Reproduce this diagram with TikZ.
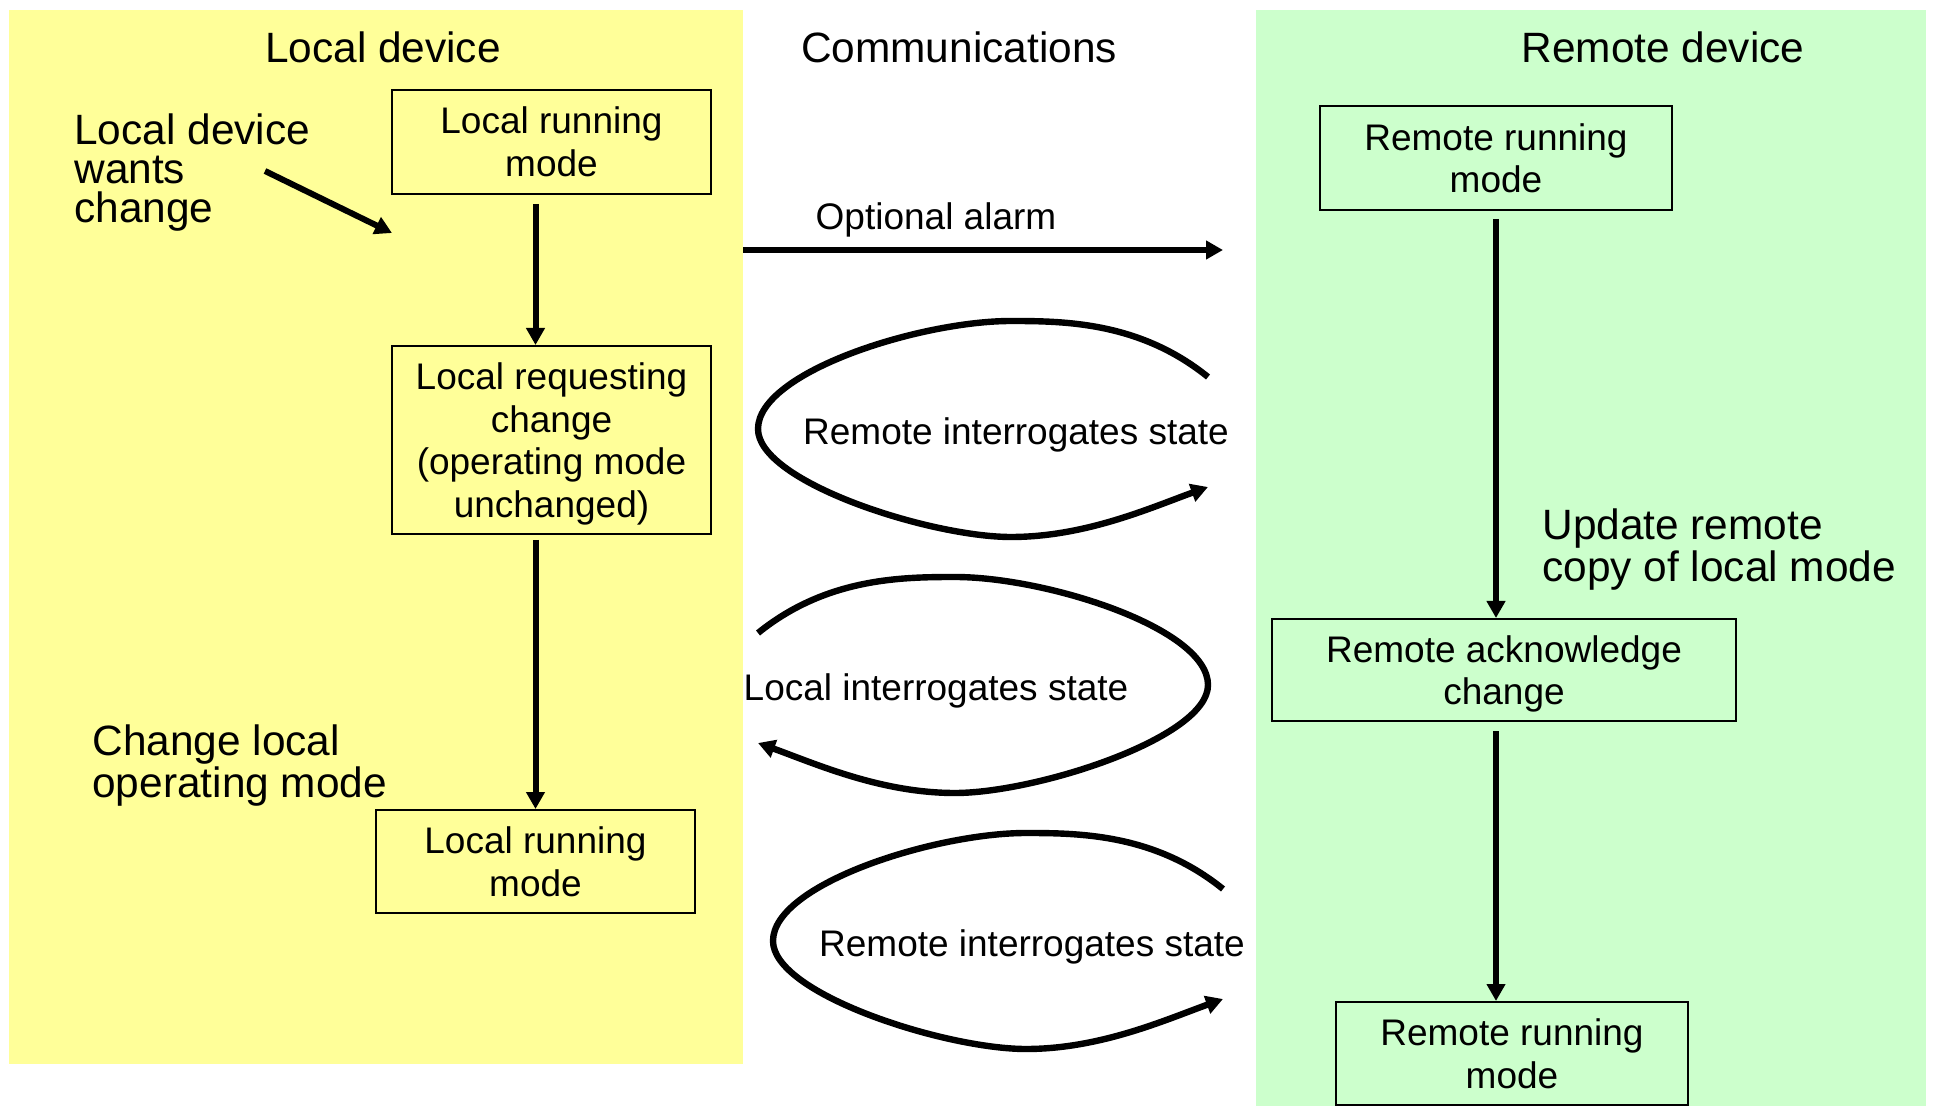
\documentclass[tikz,border=0pt]{standalone}
\usepackage{fontspec}
\setmainfont{Liberation Sans}
\usetikzlibrary{arrows.meta,calc}
\definecolor{localbg}{RGB}{255,255,153}
\definecolor{remotebg}{RGB}{204,255,204}
\tikzset{
  bigtxt/.style={font=\fontsize{21.2}{19.5}\selectfont, inner sep=0pt, text depth=0pt},
  smalltxt/.style={font=\fontsize{18.5}{21.4}\selectfont, inner sep=0pt, text depth=0pt},
  statebox/.style={draw=black, line width=1pt, align=center, inner sep=0pt, text depth=0pt,
    font=\fontsize{18.5}{21.4}\selectfont},
  conn/.style={line width=3pt, -{Triangle[length=8.5pt,width=9pt]}},
  loopline/.style={line width=3.2pt, -{Triangle[length=8.5pt,width=9pt]}},
}
\begin{document}
\begin{tikzpicture}[x=0.5pt,y=-0.5pt]
\useasboundingbox (0,0) rectangle (1933,1106);
% backgrounds
\fill[localbg] (9,10) rectangle (743,1064);
\fill[remotebg] (1256,10) rectangle (1926,1106);
% titles
\node[bigtxt] (tlocal) at (383,47) {Local device};
\node[bigtxt] (tcomm) at (959,47) {Communications};
\node[bigtxt] (tremote) at (1663,47) {Remote device};
% side labels
\node[bigtxt, align=left, anchor=west] (wants) at (74,168) {Local device\\wants\\change};
\node[bigtxt, align=left, anchor=west] (chg) at (92,761) {Change local\\operating mode};
\node[bigtxt, align=left, anchor=west] (upd) at (1542,545) {Update remote\\copy of local mode};
% local boxes
\node[statebox, minimum width=159.5pt, minimum height=52pt] (lrm1) at (551.5,142) {Local running\\mode};
\node[statebox, minimum width=159.5pt, minimum height=94pt] (lrc) at (551.5,440) {Local requesting\\change\\(operating mode\\unchanged)};
\node[statebox, minimum width=159.5pt, minimum height=51.5pt] (lrm2) at (535.5,861.5) {Local running\\mode};
% remote boxes
\node[statebox, minimum width=176pt, minimum height=52pt] (rrm1) at (1496,158) {Remote running\\mode};
\node[statebox, minimum width=232pt, minimum height=51pt] (rac) at (1504,670) {Remote acknowledge\\change};
\node[statebox, minimum width=176pt, minimum height=51.5pt] (rrm2) at (1512,1053.5) {Remote running\\mode};
% vertical connectors
\draw[conn] ($(lrm1.south -| lrm2.north)+(0,9)$) -- (lrc.north -| lrm2.north);
\draw[conn] ($(lrc.south -| lrm2.north)+(0,5)$) -- (lrm2.north);
\draw[conn] ($(rrm1.south)+(0,8)$) -- (rac.north -| rrm1.south);
\draw[conn] ($(rac.south -| rrm1.south)+(0,9)$) -- (rrm2.north -| rrm1.south);
% wants change arrow
\coordinate (wa) at (265,171);
\coordinate (wb) at (392,233);
\draw[conn] (wa) -- (wb);
% optional alarm
\coordinate (ala) at (743,250);
\coordinate (alb) at (1223,250);
\draw[conn] (ala) -- (alb);
\node[smalltxt] (altxt) at (936,216) {Optional alarm};
% loop 1: remote interrogates state
\coordinate (l1s) at (1208,377);
\coordinate (l1e) at (1208,487);
\draw[loopline] (l1s) .. controls (1140,322) and (1065,321) .. (1011,321)
  .. controls (920,321) and (758,372) .. (758,429)
  .. controls (758,482) and (930,537) .. (1011,537)
  .. controls (1085,537) and (1150,508) .. (l1e);
\node[smalltxt] (l1txt) at (1016,431) {Remote interrogates state};
% loop 2: local interrogates state (mirrored)
\coordinate (l2s) at (758,633);
\coordinate (l2e) at (758,743);
\draw[loopline] (l2s) .. controls (826,578) and (901,577) .. (955,577)
  .. controls (1046,577) and (1208,628) .. (1208,685)
  .. controls (1208,738) and (1036,793) .. (955,793)
  .. controls (881,793) and (816,764) .. (l2e);
\node[smalltxt] (l2txt) at (936,687) {Local interrogates state};
% loop 3: remote interrogates state
\coordinate (l3s) at (1223,889);
\coordinate (l3e) at (1223,999);
\draw[loopline] (l3s) .. controls (1155,834) and (1080,833) .. (1026,833)
  .. controls (935,833) and (773,884) .. (773,941)
  .. controls (773,994) and (945,1049) .. (1026,1049)
  .. controls (1100,1049) and (1165,1020) .. (l3e);
\node[smalltxt] (l3txt) at (1032,943) {Remote interrogates state};
\end{tikzpicture}
\end{document}
